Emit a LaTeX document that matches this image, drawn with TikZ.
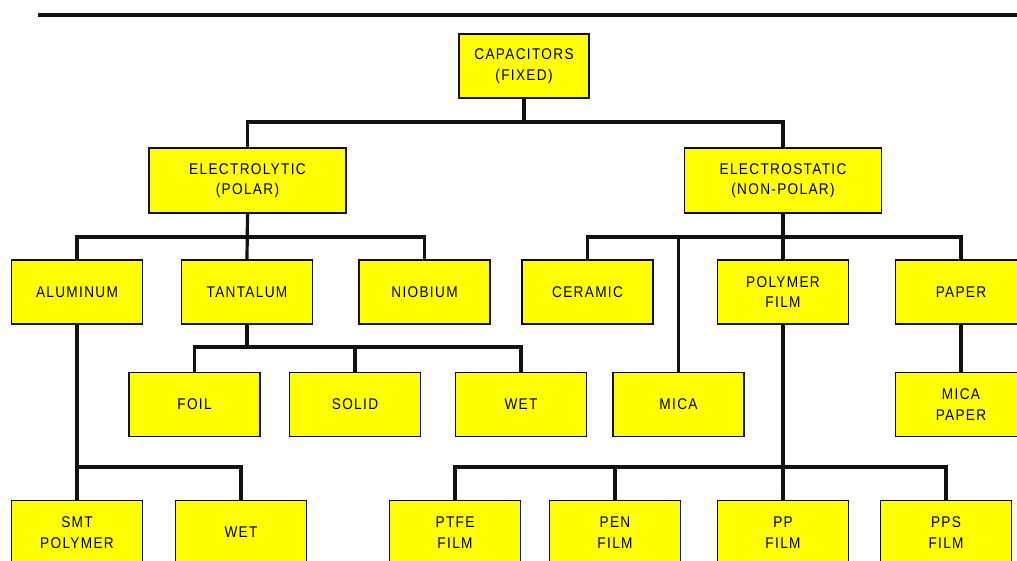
\documentclass[tikz,border=0pt]{standalone}
\usepackage{fontspec}
\setmainfont{Liberation Sans}
\usepackage{tikz}
\usetikzlibrary{positioning,calc}
\definecolor{boxfill}{HTML}{FFFF00}
\definecolor{ink}{HTML}{111111}

\begin{document}
\begin{tikzpicture}[x=1pt, y=-1pt,
  kind/.style={draw=ink, line width=1.6pt, fill=boxfill, minimum width=131pt,
    minimum height=64pt, inner sep=0pt, align=center,
    font=\fontsize{15.5}{20.5}\selectfont\addfontfeature{LetterSpace=8.5,FakeStretch=0.88}},
  widekind/.style={kind, minimum width=197pt, minimum height=65pt},
  link/.style={ink, line width=3.2pt}]
\useasboundingbox (0,0) rectangle (1017,560);
\draw[ink, line width=3.2pt] (38,15) -- (1017,15);
% tree of boxes
\node[kind, minimum width=130pt] (root) at (524,66) {CAPACITORS\\(FIXED)};
\node[widekind] (elec) at (247.5,180.5) {ELECTROLYTIC\\(POLAR)};
\node[widekind] (estat) at (783,180.5) {ELECTROSTATIC\\(NON-POLAR)};
\node[kind] (alum) at (77,292) {ALUMINUM};
\node[kind] (tant) at (247,292) {TANTALUM};
\node[kind] (niob) at (424.5,292) {NIOBIUM};
\node[kind] (ceram) at (587.5,292) {CERAMIC};
\node[kind] (poly) at (783,292) {POLYMER\\FILM};
\node[kind] (paper) at (961,292) {PAPER};
\node[kind] (foil) at (194.5,404.5) {FOIL};
\node[kind] (solid) at (355,404.5) {SOLID};
\node[kind] (wetta) at (521,404.5) {WET};
\node[kind] (mica) at (678.5,404.5) {MICA};
\node[kind] (micapap) at (961,404.5) {MICA\\PAPER};
\node[kind] (smt) at (77,532.5) {SMT\\POLYMER};
\node[kind] (wetal) at (241,532.5) {WET};
\node[kind] (ptfe) at (455,532.5) {PTFE\\FILM};
\node[kind] (pen) at (615,532.5) {PEN\\FILM};
\node[kind] (pp) at (783,532.5) {PP\\FILM};
\node[kind] (pps) at (946,532.5) {PPS\\FILM};
% buses
\coordinate (busA) at (524,122);
\coordinate (busB) at (247,237);
\coordinate (busC) at (783,237);
\coordinate (busD) at (247,347);
\coordinate (busE) at (77,467);
\coordinate (busF) at (783,467);
\draw[link] (root.south) -- (busA);
\draw[link] (elec.north) |- (busA) -| (estat.north);
\draw[link] (elec.south) -- (tant.north);
\draw[link] (alum.north) |- (busB) -| (niob.north);
\draw[link] (estat.south) -- (poly.north);
\draw[link] (ceram.north) |- (busC) -| (paper.north);
\draw[link] (mica.north) -- (mica.north |- busC);
\draw[link] (tant.south) -- (busD);
\draw[link] (foil.north) |- (busD) -| (wetta.north);
\draw[link] (solid.north) -- (solid.north |- busD);
\draw[link] (paper.south) -- (micapap.north);
\draw[link] (alum.south) -- (smt.north);
\draw[link] (wetal.north) |- (busE);
\draw[link] (poly.south) -- (pp.north);
\draw[link] (ptfe.north) |- (busF) -| (pps.north);
\draw[link] (pen.north) -- (pen.north |- busF);
\end{tikzpicture}
\end{document}
